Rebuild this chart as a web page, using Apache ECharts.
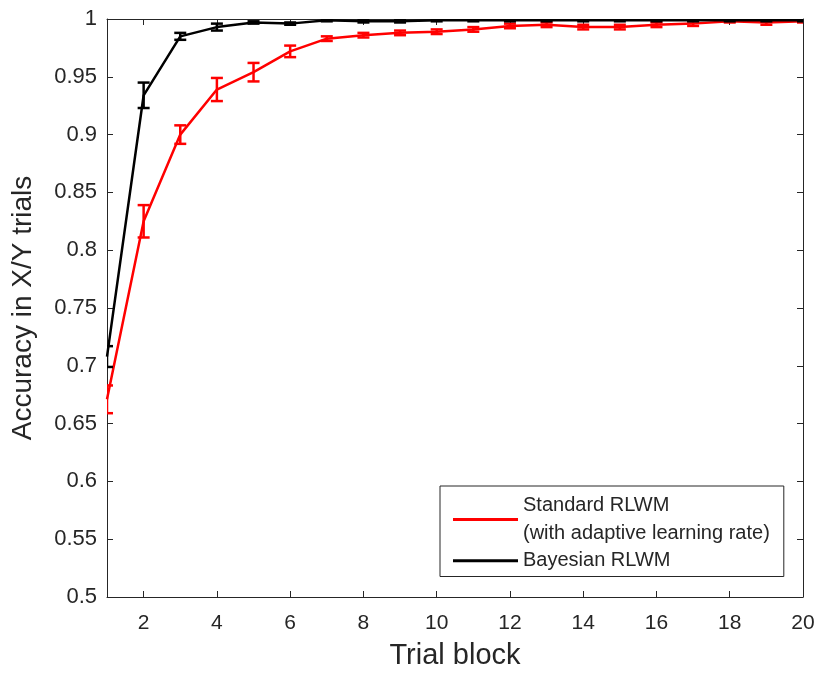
<!DOCTYPE html>
<html>
<head>
<meta charset="utf-8">
<script src="https://cdn.jsdelivr.net/npm/echarts@6/dist/echarts.min.js"></script>
<style>html,body{margin:0;padding:0;background:#fff}#c{width:819px;height:675px}</style>
</head>
<body>
<div id="c"></div>
<script>
var trialBlocks = [1,2,3,4,5,6,7,8,9,10,11,12,13,14,15,16,17,18,19,20];
var xTickValues = [2,4,6,8,10,12,14,16,18,20];
var standardMean = [0.671,0.825,0.900,0.939,0.954,0.972,0.983,0.986,0.988,0.989,0.991,0.994,0.995,0.993,0.993,0.995,0.996,0.998,0.997,0.998];
var standardErr  = [0.012,0.014,0.008,0.010,0.008,0.005,0.002,0.002,0.002,0.002,0.002,0.002,0.002,0.002,0.002,0.002,0.002,0.001,0.002,0.001];
var bayesMean = [0.708,0.934,0.985,0.993,0.997,0.996,0.999,0.998,0.998,0.999,0.999,0.999,0.999,0.999,0.999,0.999,0.999,0.999,0.999,0.999];
var bayesErr  = [0.009,0.011,0.003,0.003,0.001,0.001,0.001,0.001,0.001,0.001,0.001,0.001,0.001,0.001,0.001,0.001,0.001,0.001,0.001,0.001];
var seriesNames = ['Standard RLWM\n(with adaptive learning rate)', 'Bayesian RLWM'];

var chart = echarts.init(document.getElementById('c'), null, {renderer:'canvas'});
var axisColor = '#262626';
var font = 'Liberation Sans, Arial, Helvetica, sans-serif';

function pairs(m){ return trialBlocks.map(function(x,i){return [x,m[i]];}); }
function errData(m,e){ return trialBlocks.map(function(x,i){return [x,m[i]-e[i],m[i]+e[i]];}); }
function errRender(color){
  return function(params, api){
    var x = api.value(0), lo = api.value(1), hi = api.value(2);
    var pLo = api.coord([x,lo]), pHi = api.coord([x,hi]);
    var hw = 6;
    var st = {stroke: color, lineWidth: 2.5};
    return {type:'group', children:[
      {type:'line', shape:{x1:pLo[0],y1:pLo[1],x2:pHi[0],y2:pHi[1]}, style:st},
      {type:'line', shape:{x1:pLo[0]-hw,y1:pLo[1],x2:pLo[0]+hw,y2:pLo[1]}, style:st},
      {type:'line', shape:{x1:pHi[0]-hw,y1:pHi[1],x2:pHi[0]+hw,y2:pHi[1]}, style:st}
    ]};
  };
}

var option = {
  animation:false,
  backgroundColor:'#fff',
  grid:{left:107, right:16, top:19, bottom:77, containLabel:false},
  legend:{
    data:seriesNames,
    orient:'vertical',
    left:440, top:486,
    backgroundColor:'#fff',
    borderColor:axisColor, borderWidth:1,
    padding:[6,14,2,13],
    icon:'rect',
    itemWidth:65, itemHeight:3, itemGap:0,
    textStyle:{fontFamily:font, fontSize:20, color:axisColor, lineHeight:27.5}
  },
  xAxis:[{
    type:'value', min:1, max:20,
    name:'Trial block', nameLocation:'middle', nameGap:44,
    nameTextStyle:{fontFamily:font, fontSize:29, color:axisColor},
    axisLine:{show:true, lineStyle:{color:axisColor, width:1}},
    axisTick:{show:true, inside:true, length:6, customValues:xTickValues, lineStyle:{color:axisColor}},
    axisLabel:{show:true, customValues:xTickValues, margin:16, fontFamily:font, fontSize:21, color:axisColor},
    splitLine:{show:false}
  },{
    type:'value', min:1, max:20, position:'top',
    axisLine:{show:true, lineStyle:{color:axisColor, width:1}},
    axisTick:{show:true, inside:true, length:6, customValues:xTickValues, lineStyle:{color:axisColor}},
    axisLabel:{show:false}, splitLine:{show:false}
  }],
  yAxis:[{
    type:'value', min:0.5, max:1, interval:0.05,
    name:'Accuracy in X/Y trials', nameLocation:'middle', nameGap:70,
    nameTextStyle:{fontFamily:font, fontSize:28, color:axisColor},
    axisLine:{show:true, lineStyle:{color:axisColor, width:1}},
    axisTick:{show:true, inside:true, length:6, lineStyle:{color:axisColor}},
    axisLabel:{margin:10, fontFamily:font, fontSize:22, color:axisColor,
      formatter:function(v){ return String(Math.round(v*100)/100); }},
    splitLine:{show:false}
  },{
    type:'value', min:0.5, max:1, interval:0.05, position:'right',
    axisLine:{show:true, lineStyle:{color:axisColor, width:1}},
    axisTick:{show:true, inside:true, length:6, lineStyle:{color:axisColor}},
    axisLabel:{show:false}, splitLine:{show:false}
  }],
  series:[
    {name:seriesNames[0], type:'line', data:pairs(standardMean), symbol:'none', z:3,
     lineStyle:{color:'#ff0000', width:2.5}, itemStyle:{color:'#ff0000'}},
    {name:seriesNames[0]+'_err', type:'custom', data:errData(standardMean,standardErr), renderItem:errRender('#ff0000'), clip:true, z:3},
    {name:seriesNames[1], type:'line', data:pairs(bayesMean), symbol:'none', z:4,
     lineStyle:{color:'#000000', width:2.5}, itemStyle:{color:'#000000'}},
    {name:seriesNames[1]+'_err', type:'custom', data:errData(bayesMean,bayesErr), renderItem:errRender('#000000'), clip:true, z:4}
  ]
};
chart.setOption(option);
</script>
</body>
</html>
